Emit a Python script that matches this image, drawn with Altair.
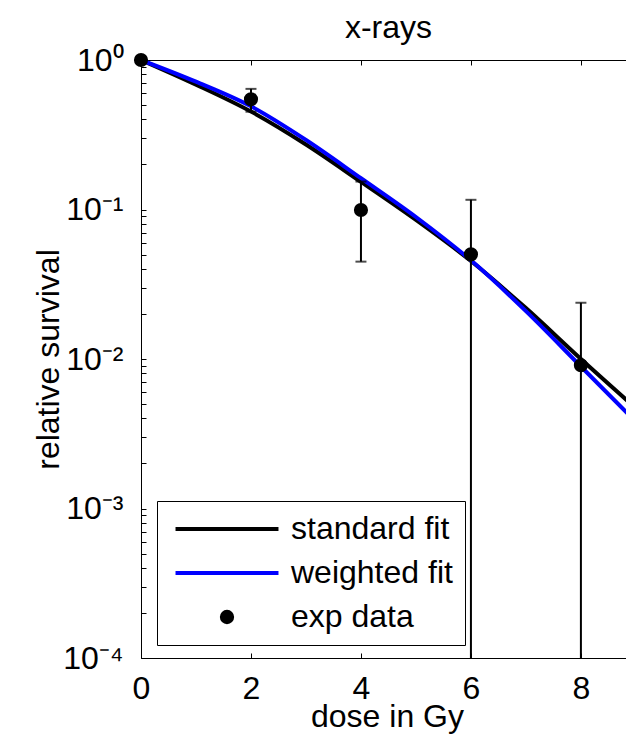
import altair as alt
import pandas as pd
import numpy as np

# ---- data ----
dose_fit = [0, 1, 2, 3, 4, 5, 6, 7, 8, 9]
standard_fit = [1.0, 0.684, 0.452, 0.272, 0.153, 0.0851, 0.0452, 0.0219, 0.0100, 0.00468]
weighted_fit = [1.0, 0.716, 0.490, 0.292, 0.162, 0.0891, 0.0457, 0.0209, 0.00891, 0.0038]

dose_exp = [0, 2, 4, 6, 8]
survival_exp = [1.0, 0.546, 0.0993, 0.0501, 0.00908]
error_exp = [0.0, 0.095, 0.0545, 0.066, 0.0147]

series_names = ["standard fit", "weighted fit", "exp data"]
series_colors = ["#000000", "#0000ff", "#000000"]

x_ticks = [0, 2, 4, 6, 8]
y_major = [1e-4, 1e-3, 1e-2, 1e-1, 1.0]
y_labels = ["10⁻⁴", "10⁻³", "10⁻²", "10⁻¹", "10⁰"]
y_minor_steps = [2, 3, 4, 5, 6, 7, 8, 9]

# ---- tables ----
fit_df = pd.DataFrame({
    "dose": dose_fit + dose_fit,
    "survival": standard_fit + weighted_fit,
    "series": ["standard fit"] * len(dose_fit) + ["weighted fit"] * len(dose_fit),
})
exp_df = pd.DataFrame({"dose": dose_exp, "survival": survival_exp, "err": error_exp})
exp_df["upper"] = exp_df["survival"] + exp_df["err"]
low = exp_df["survival"] - exp_df["err"]
exp_df["lower"] = np.where(low > 0, low, 1e-7)  # below zero on a log axis: runs off the bottom
bars_df = exp_df[exp_df["err"] > 0]

y_tick_values = []
for m in y_major[:-1]:
    y_tick_values.append(m)
    y_tick_values += [m * k for k in y_minor_steps]
y_tick_values.append(1.0)

label_expr = ""
for v, s in zip(y_major, y_labels):
    label_expr += "abs(datum.value - %r) < %r ? '%s' : " % (v, v * 1e-6, s)
label_expr += "''"

FONT = "Liberation Sans"
FS = 32

x_scale = alt.Scale(domain=[0, 8.82], nice=False, zero=False)
y_scale = alt.Scale(type="log", domain=[1e-4, 1], nice=False)
color_scale = alt.Scale(domain=series_names, range=series_colors)

LINE_PATH = "M -5,0 L 5,0"
DOT_PATH = "M -0.5,0 A 0.5,0.5 0 1,1 0.5,0 A 0.5,0.5 0 1,1 -0.5,0 Z"
legend = alt.Legend(
    title=None,
    orient="none",
    legendX=16,
    legendY=441,
    fillColor="white",
    strokeColor="black",
    padding=12,
    rowPadding=12,
    symbolType={"expr": "datum.value === 'exp data' ? '" + DOT_PATH + "' : '" + LINE_PATH + "'"},
    symbolSize=424,
    symbolStrokeWidth=4,
    symbolFillColor="black",
    symbolOffset=42,
    labelOffset=48,
    labelFont=FONT,
    labelFontSize=FS,
    labelColor="black",
    labelLimit=400,
)

y_axis = alt.Axis(orient="left", values=y_tick_values, labelExpr=label_expr, labelOverlap=False,
                  domain=False, offset=-5, tickSize=5, tickColor="black", grid=False,
                  labelFont=FONT, labelFontSize=FS, labelColor="black", labelPadding=18,
                  title="relative survival", titleFont=FONT, titleFontSize=FS,
                  titleFontWeight="normal", titleColor="black", titleBaseline="alphabetic",
                  titleX=-88, titleAngle=270)
x_axis_bottom = alt.Axis(orient="bottom", values=x_ticks, domain=False, offset=-5, tickSize=5,
                         tickColor="black", grid=False, labelFont=FONT, labelFontSize=FS,
                         labelColor="black", labelPadding=15, labelFlush=False,
                         title="dose in Gy", titleFont=FONT, titleFontSize=FS,
                         titleFontWeight="normal", titleColor="black",
                         titleBaseline="alphabetic", titleX=246, titleY=73)
x_axis_top = alt.Axis(orient="top", values=x_ticks, labels=False, domain=False,
                      offset=-5, tickSize=5, tickColor="black", grid=False,
                      title="x-rays", titleFont=FONT, titleFontSize=FS,
                      titleFontWeight="normal", titleColor="black",
                      titleBaseline="alphabetic", titleX=247, titleY=-28)

lines = alt.Chart(fit_df).mark_line(strokeWidth=4, clip=True, interpolate="monotone").encode(
    x=alt.X("dose:Q", scale=x_scale, axis=x_axis_top),
    y=alt.Y("survival:Q", scale=y_scale, axis=None),
    color=alt.Color("series:N", scale=color_scale, legend=legend),
    detail="series:N",
)

bars = alt.Chart(bars_df).mark_rule(strokeWidth=2, color="black", clip=True).encode(
    x=alt.X("dose:Q", scale=x_scale, axis=None),
    y=alt.Y("lower:Q", scale=y_scale, axis=None),
    y2="upper:Q",
)
caps_up = alt.Chart(bars_df).mark_tick(orient="horizontal", size=11, thickness=2, color="black", clip=True).encode(
    x=alt.X("dose:Q", scale=x_scale, axis=None),
    y=alt.Y("upper:Q", scale=y_scale, axis=None),
)
caps_low = alt.Chart(bars_df).mark_tick(orient="horizontal", size=11, thickness=2, color="black", clip=True).encode(
    x=alt.X("dose:Q", scale=x_scale, axis=None),
    y=alt.Y("lower:Q", scale=y_scale, axis=None),
)
points = alt.Chart(exp_df).mark_circle(size=200, color="black", opacity=1).encode(
    x=alt.X("dose:Q", scale=x_scale, axis=x_axis_bottom),
    y=alt.Y("survival:Q", scale=y_scale, axis=y_axis),
)

chart = alt.layer(lines, bars, caps_up, caps_low, points).resolve_axis(
    x="independent", y="independent"
).properties(
    width=485,
    height=598,
    autosize=alt.AutoSizeParams(type="none"),
    padding={"left": 141, "top": 60, "right": 0, "bottom": 87},
).configure(background="white", view=alt.ViewConfig(stroke="black", strokeWidth=1))

chart.save("out.html", embed_options={"renderer": "svg", "actions": False})
